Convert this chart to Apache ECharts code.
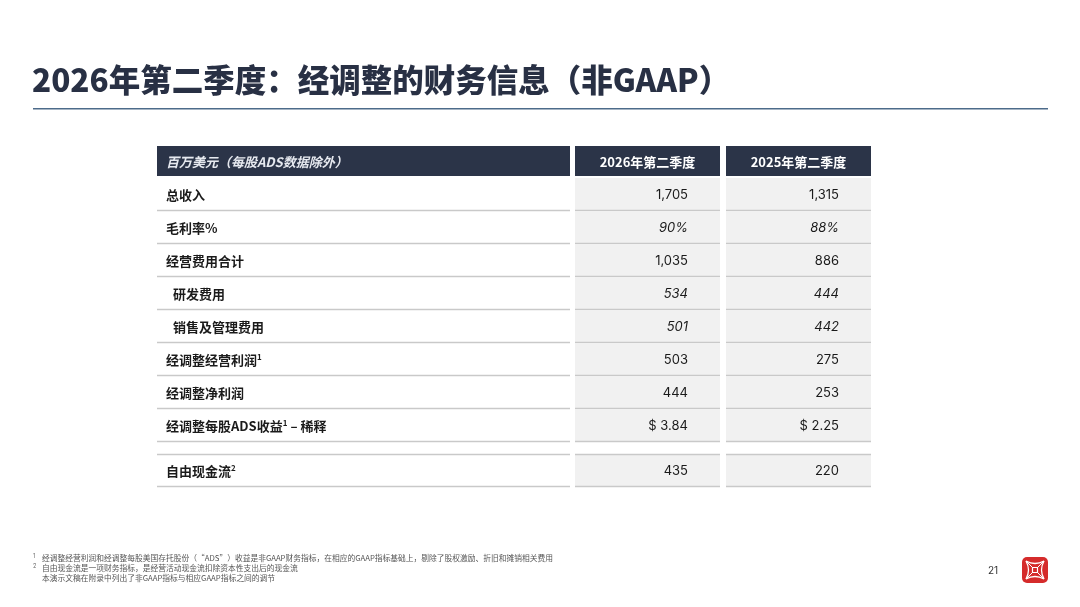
<!DOCTYPE html>
<html>
<head>
<meta charset="utf-8">
<script src="https://cdn.jsdelivr.net/npm/echarts@6/dist/echarts.min.js"></script>
<style>html,body{margin:0;padding:0;background:#fff;}#main{width:1080px;height:607px;}</style>
</head>
<body>
<div id="main"></div>
<script>
// ---- data ----
const titleText = '2026年第二季度：经调整的财务信息（非GAAP）';
const headerLabel = '百万美元（每股ADS数据除外）';
const columnHeaders = ['2026年第二季度', '2025年第二季度'];
const rowLabels = ['总收入', '毛利率%', '经营费用合计', '研发费用', '销售及管理费用',
  '经调整经营利润{sup|1}', '经调整净利润', '经调整每股ADS收益{sup|1} – 稀释', '自由现金流{sup|2}'];
const q2_2026 = [1705, 90, 1035, 534, 501, 503, 444, 3.84, 435];
const q2_2025 = [1315, 88, 886, 444, 442, 275, 253, 2.25, 220];
const italicRows = [1, 3, 4];
const indentRows = [3, 4];
const footnotes = [
  ['1', '经调整经营利润和经调整每股美国存托股份（“ADS”）收益是非GAAP财务指标，在相应的GAAP指标基础上，剔除了股权激励、折旧和摊销相关费用'],
  ['2', '自由现金流是一项财务指标，是经营活动现金流扣除资本性支出后的现金流'],
  ['', '本演示文稿在附录中列出了非GAAP指标与相应GAAP指标之间的调节']
];
const pageNumber = '21';

// ---- layout helpers (table units along the y value axis) ----
const HEADER_H = 30, ROW_H = 33, FIRST = 32, GAP_ROW = 8, GAP = 12;
function rowTop(i) { return i < GAP_ROW ? FIRST + ROW_H * i : FIRST + ROW_H * i + GAP; }
const TABLE_MAX = rowTop(rowLabels.length - 1) + ROW_H;

function fmt(v, i) {
  if (i === 1) return v + '%';
  if (i === 7) return '$ ' + v.toFixed(2);
  return v.toLocaleString('en-US');
}

const CJK = '"Noto Sans CJK SC", "Noto Sans", sans-serif';
const NUM = 'Inter, "Noto Sans CJK SC", sans-serif';
const NAVY = '#2b3448';
const LINE = '#c9c9c9';
const CELL = '#f1f1f1';

const grids = [
  { left: 157, top: 146, width: 413, height: TABLE_MAX },
  { left: 575, top: 146, width: 145, height: TABLE_MAX },
  { left: 726, top: 146, width: 145, height: TABLE_MAX }
];
const xAxes = grids.map((g, k) => ({ type: 'value', gridIndex: k, min: 0, max: 1, show: false }));
const yAxes = grids.map((g, k) => ({ type: 'value', gridIndex: k, min: 0, max: TABLE_MAX, inverse: true, show: false }));

function headerSeries(k, text, isLabel) {
  return {
    type: 'custom', xAxisIndex: k, yAxisIndex: k, clip: false, silent: true,
    data: [[0, 0]],
    renderItem: function (params, api) {
      const p0 = api.coord([0, 0]);
      const p1 = api.coord([1, HEADER_H]);
      return {
        type: 'group', children: [
          { type: 'rect', shape: { x: p0[0], y: p0[1], width: p1[0] - p0[0], height: p1[1] - p0[1] }, style: { fill: NAVY } },
          { type: 'text', style: {
            text: text, x: isLabel ? p0[0] + 9 : (p0[0] + p1[0]) / 2, y: (p0[1] + p1[1]) / 2 + 1,
            align: isLabel ? 'left' : 'center', verticalAlign: 'middle',
            fill: isLabel ? '#e6e9ef' : '#ffffff', fontSize: 13, fontWeight: 'bold',
            fontStyle: isLabel ? 'italic' : 'normal', fontFamily: CJK } }
        ]
      };
    }
  };
}

function bodySeries(k, values) {
  const isLabel = k === 0;
  return {
    type: 'custom', xAxisIndex: k, yAxisIndex: k, clip: false, silent: true,
    data: rowLabels.map((lab, i) => [i, isLabel ? 0 : values[i]]),
    renderItem: function (params, api) {
      const i = api.value(0);
      const top = rowTop(i);
      const p0 = api.coord([0, top]);
      const p1 = api.coord([1, top + ROW_H]);
      const children = [];
      if (!isLabel) {
        children.push({ type: 'rect', shape: { x: p0[0], y: p0[1], width: p1[0] - p0[0], height: p1[1] - p0[1] }, style: { fill: CELL } });
      }
      children.push({ type: 'line', shape: { x1: p0[0], y1: p1[1] - 0.5, x2: p1[0], y2: p1[1] - 0.5 }, style: { stroke: LINE, lineWidth: 1.3 } });
      if (i === GAP_ROW) {
        children.push({ type: 'line', shape: { x1: p0[0], y1: p0[1] + 0.5, x2: p1[0], y2: p0[1] + 0.5 }, style: { stroke: LINE, lineWidth: 1.3 } });
      }
      const cy = (p0[1] + p1[1]) / 2 + 1;
      if (isLabel) {
        children.push({ type: 'text', style: {
          text: rowLabels[i], x: p0[0] + (indentRows.indexOf(i) >= 0 ? 16 : 9), y: cy,
          align: 'left', verticalAlign: 'middle', fill: '#1a1a1a',
          fontSize: 13, fontWeight: 'bold', fontFamily: CJK,
          rich: { sup: { fontSize: 8, fontWeight: 'bold', fontFamily: CJK, fill: '#1a1a1a', verticalAlign: 'top', lineHeight: 16 } },
          lineHeight: 16 } });
      } else {
        children.push({ type: 'text', style: {
          text: fmt(api.value(1), i), x: p1[0] - 32, y: cy,
          align: 'right', verticalAlign: 'middle', fill: '#1a1a1a',
          fontSize: 13, fontStyle: italicRows.indexOf(i) >= 0 ? 'italic' : 'normal',
          fontFamily: NUM } });
      }
      return { type: 'group', children: children };
    }
  };
}

const graphics = [
  { type: 'text', x: 32, y: 80, style: { text: titleText, fontSize: 31.5, fontWeight: 900, fontFamily: CJK, fill: '#283044', verticalAlign: 'middle' } },
  { type: 'rect', shape: { x: 33, y: 108, width: 1015, height: 1.6 }, style: { fill: '#4d6b8a' } },
  { type: 'text', x: 988, y: 571, style: { text: pageNumber, fontSize: 10, fontFamily: NUM, fill: '#333', verticalAlign: 'middle' } }
];
footnotes.forEach((f, j) => {
  if (f[0]) graphics.push({ type: 'text', x: 33, y: 556 + j * 10, style: { text: f[0], fontSize: 5.5, fontFamily: NUM, fill: '#666', verticalAlign: 'middle' } });
  graphics.push({ type: 'text', x: 42, y: 558 + j * 10, style: { text: f[1], fontSize: 7.75, fontFamily: CJK, fill: '#555', verticalAlign: 'middle' } });
});
// logo
const LX = 1022, LY = 557;
const W = { fill: 'none', stroke: '#fff', lineWidth: 1.3 };
graphics.push({ type: 'rect', shape: { x: LX, y: LY, width: 26, height: 26, r: 5 }, style: { fill: '#d52b2b' } });
[[4, 4, 22, 4, 13, 9], [22, 4, 22, 22, 17, 13], [22, 22, 4, 22, 13, 17], [4, 22, 4, 4, 9, 13]].forEach(c => {
  graphics.push({ type: 'bezierCurve', shape: { x1: LX + c[0], y1: LY + c[1], x2: LX + c[2], y2: LY + c[3], cpx1: LX + c[4], cpy1: LY + c[5] }, style: W });
});
graphics.push({ type: 'rect', shape: { x: LX + 10.5, y: LY + 10.5, width: 5, height: 5 }, style: { fill: 'none', stroke: '#fff', lineWidth: 1.2 } });
[[4, 4, 10.5, 10.5], [22, 4, 15.5, 10.5], [22, 22, 15.5, 15.5], [4, 22, 10.5, 15.5]].forEach(c => {
  graphics.push({ type: 'line', shape: { x1: LX + c[0], y1: LY + c[1], x2: LX + c[2], y2: LY + c[3] }, style: { stroke: '#fff', lineWidth: 1 } });
});

const chart = echarts.init(document.getElementById('main'), null, { renderer: 'canvas' });
chart.setOption({
  animation: false,
  backgroundColor: '#ffffff',
  grid: grids,
  xAxis: xAxes,
  yAxis: yAxes,
  graphic: graphics,
  series: [
    headerSeries(0, headerLabel, true),
    headerSeries(1, columnHeaders[0], false),
    headerSeries(2, columnHeaders[1], false),
    bodySeries(0, null),
    bodySeries(1, q2_2026),
    bodySeries(2, q2_2025)
  ]
});
</script>
</body>
</html>
